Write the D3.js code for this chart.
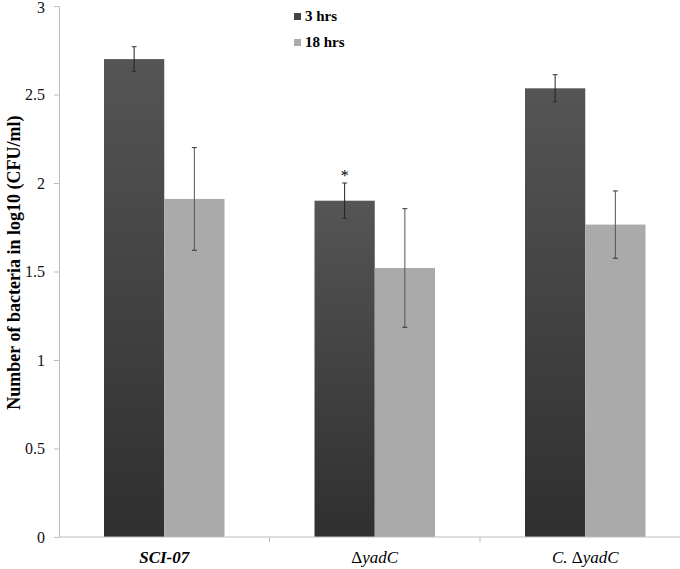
<!DOCTYPE html>
<html>
<head>
<meta charset="utf-8">
<script src="https://cdn.jsdelivr.net/npm/d3@7"></script>
<style>
  body { margin: 0; background: #fff; }
  svg, svg text { font-family: 'Liberation Serif', 'Times New Roman', Times, serif !important; }
</style>
</head>
<body>
<svg id="chart" width="680" height="569"></svg>
<script>
const categories = ["SCI-07", "\u0394yadC", "C. \u0394yadC"];
const seriesNames = ["3 hrs", "18 hrs"];
const values3h = [2.70, 1.90, 2.535];
const errors3h = [0.07, 0.10, 0.077];
const values18h = [1.91, 1.52, 1.765];
const errors18h = [0.29, 0.335, 0.19];
const yTicks = [0, 0.5, 1, 1.5, 2, 2.5, 3];
const significance = ["", "*", ""];

const svg = d3.select("#chart");
const margin = { left: 59, top: 6, bottom: 32 };
const plotH = 569 - margin.top - margin.bottom;
const bandW = 210.5;

const x = d3.scaleBand().domain(categories)
  .range([margin.left, margin.left + bandW * categories.length])
  .paddingInner(0.4276).paddingOuter(0.2138);
const xs = d3.scaleBand().domain(seriesNames).range([0, x.bandwidth()]);
const y = d3.scaleLinear().domain([0, 3]).range([margin.top + plotH, margin.top]);

const defs = svg.append("defs");
const grad = defs.append("linearGradient").attr("id", "darkGrad")
  .attr("x1", 0).attr("y1", 0).attr("x2", 0).attr("y2", 1);
grad.append("stop").attr("offset", "0%").attr("stop-color", "#555555");
grad.append("stop").attr("offset", "100%").attr("stop-color", "#2f2f2f");

const colors = { "3 hrs": "url(#darkGrad)", "18 hrs": "#aaaaaa" };

// y axis
const yAxis = svg.append("g").attr("transform", `translate(${margin.left},0)`)
  .call(d3.axisLeft(y).tickValues(yTicks).tickSize(5).tickPadding(9)
    .tickFormat(d => d3.format("")(d)));
yAxis.attr("font-family", null);
yAxis.select(".domain").attr("stroke", "#bdbdbd");
yAxis.selectAll(".tick line").attr("stroke", "#bdbdbd");
yAxis.selectAll(".tick text").attr("font-size", 16).attr("fill", "#111");
yAxis.selectAll(".tick text").filter(d => d === 3).attr("dy", "0.4em");

// bars
const data = [];
categories.forEach((c, i) => {
  data.push({ cat: c, s: "3 hrs", v: values3h[i], e: errors3h[i] });
  data.push({ cat: c, s: "18 hrs", v: values18h[i], e: errors18h[i] });
});

svg.append("g").selectAll("rect").data(data).join("rect")
  .attr("x", d => x(d.cat) + xs(d.s))
  .attr("y", d => y(d.v))
  .attr("width", xs.bandwidth())
  .attr("height", d => y(0) - y(d.v))
  .attr("fill", d => colors[d.s]);

// x axis
const xAxisG = svg.append("g").attr("transform", `translate(0,${y(0)})`);
xAxisG.append("line").attr("x1", margin.left).attr("x2", 680)
  .attr("stroke", "#bdbdbd").attr("stroke-width", 1.2);
const bounds = [x.range()[0] + bandW, x.range()[0] + 2 * bandW];
xAxisG.selectAll(".xt").data(bounds).join("line")
  .attr("x1", d => d).attr("x2", d => d).attr("y1", 0).attr("y2", 5)
  .attr("stroke", "#bdbdbd");
xAxisG.selectAll(".xl").data(categories).join("text")
  .attr("x", d => x(d) + x.bandwidth() / 2)
  .attr("y", 26)
  .attr("text-anchor", "middle")
  .attr("font-size", 17)
  .attr("font-weight", (d, i) => i === 0 ? "bold" : "normal")
  .attr("font-style", "italic")
  .each(function(d) {
    const t = d3.select(this);
    const m = d.match(/^(.*?)(\u0394)(.*)$/);
    if (m) {
      if (m[1]) t.append("tspan").text(m[1]);
      t.append("tspan").attr("font-style", "normal").text(m[2]);
      t.append("tspan").text(m[3]);
    } else {
      t.text(d);
    }
  });

// error bars
const eb = svg.append("g");
data.forEach(d => {
  const cx = x(d.cat) + xs(d.s) + xs.bandwidth() / 2;
  eb.append("line").attr("x1", cx).attr("x2", cx)
    .attr("y1", y(d.v + d.e)).attr("y2", y(d.v - d.e))
    .attr("stroke", d.s === "3 hrs" ? "#222" : "#555").attr("stroke-width", 1);
  [d.v + d.e, d.v - d.e].forEach(v => {
    eb.append("line").attr("x1", cx - 2.5).attr("x2", cx + 2.5)
      .attr("y1", y(v)).attr("y2", y(v)).attr("stroke", "#333").attr("stroke-width", 1);
  });
});

// significance
svg.append("g").selectAll("text").data(categories).join("text")
  .attr("x", d => x(d) + xs("3 hrs") + xs.bandwidth() / 2)
  .attr("y", (d, i) => y(values3h[i] + errors3h[i]) - 2)
  .attr("text-anchor", "middle").attr("font-size", 16).attr("fill", "#000")
  .text((d, i) => significance[i]);

// legend
const leg = svg.append("g");
seriesNames.forEach((s, i) => {
  const yy = 18 + i * 26;
  leg.append("rect").attr("x", 294).attr("y", yy - 5).attr("width", 7).attr("height", 7)
    .attr("fill", i === 0 ? "#444" : "#aaaaaa");
  leg.append("text").attr("x", 305).attr("y", yy + 3).attr("fill", "#000")
    .attr("font-size", 15).attr("font-weight", "bold").text(s);
});

// y label
svg.append("text")
  .attr("transform", `translate(20,${y(1.55)}) rotate(-90)`)
  .attr("text-anchor", "middle").attr("font-size", 18).attr("font-weight", "bold")
  .attr("fill", "#000")
  .text("Number of bacteria in log10 (CFU/ml)");
</script>
</body>
</html>
